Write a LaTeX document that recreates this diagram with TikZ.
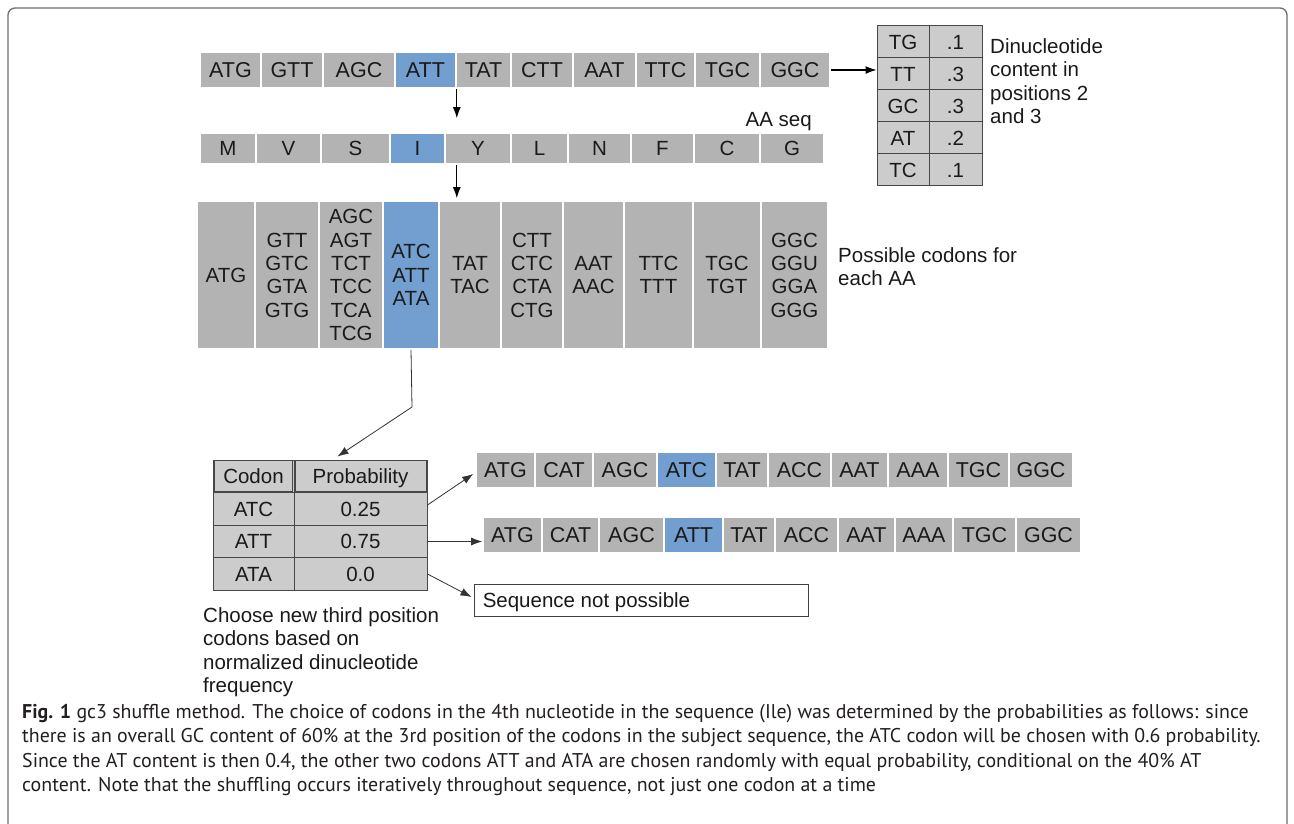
\documentclass[tikz,border=0pt]{standalone}
\usepackage{fontspec}
\setmainfont{Liberation Sans}
\newfontfamily\capfont{PT Sans}
\usetikzlibrary{arrows.meta,calc}
\definecolor{cellgray}{HTML}{B3B3B3}
\definecolor{cellblue}{HTML}{729FCF}
\definecolor{tabgray}{HTML}{CCCCCC}
\definecolor{txt}{HTML}{1A1A1A}
\definecolor{framegray}{HTML}{6E6E6E}
\definecolor{capcol}{HTML}{231F20}
\tikzset{
  cell/.style={fill=cellgray, draw=white, line width=1.6pt, inner sep=0pt, text=txt},
  hcell/.style={cell, fill=cellblue},
  onel/.style={text height=14.8pt, text depth=0pt},
  tcell/.style={fill=tabgray, draw=black!72, line width=1pt, inner sep=0pt, text=txt, onel},
  inbox/.style={draw=black!72, line width=0.8pt},
  arr/.style={-{Latex[length=11pt,width=8pt]}, line width=1.1pt, draw=black},
  garr/.style={-{Latex[length=11pt,width=8pt]}, line width=0.8pt, draw=black!80},
  lbl/.style={inner sep=0pt, text=txt, align=left},
  capline/.style={inner sep=0pt, text=capcol, anchor=base west, font=\capfont\fontsize{19.9}{24}\selectfont},
}
\begin{document}
\begin{tikzpicture}[x=1pt, y=-1pt, font=\fontsize{20.5}{23.3}\selectfont]
\useasboundingbox (0,0) rectangle (1294,824);
\fill[white] (0,0) rectangle (1294,824);
% frame
\draw[framegray, line width=1.3pt, rounded corners=7pt] (8,824) -- (8,8) -- (1287,8) -- (1287,824);

% top nucleotide row
\foreach \i/\a/\b/\t/\s in {1/200/261/ATG/cell, 2/261/323/GTT/cell, 3/323/395/AGC/cell, 4/395/456/ATT/hcell, 5/456/511/TAT/cell, 6/511/573/CTT/cell, 7/573/636/AAT/cell, 8/636/695/TTC/cell, 9/695/760/TGC/cell, 10/760/830/GGC/cell}
  \node[\s, font=\fontsize{21.5}{24}\selectfont, onel, minimum width={(\b-\a)*1pt}, minimum height=36pt] (t\i) at ({(\a+\b)/2},70) {\t};

% amino acid row
\foreach \i/\a/\b/\t/\s in {1/200/256/M/cell, 2/256/321/V/cell, 3/321/390/S/cell, 4/390/445/I/hcell, 5/445/511/Y/cell, 6/511/568/L/cell, 7/568/631/N/cell, 8/631/694/F/cell, 9/694/760/C/cell, 10/760/824/G/cell}
  \node[\s, onel, minimum width={(\b-\a)*1pt}, minimum height=31pt] (a\i) at ({(\a+\b)/2},148.5) {\t};
\node[lbl, anchor=east] (aaseq) at (812,122) {AA seq};

% possible codons block
\foreach \i/\a/\b/\t/\s in {1/197/255/{ATG}/cell, 2/255/319/{GTT\\GTC\\GTA\\GTG}/cell, 3/319/383/{AGC\\AGT\\TCT\\TCC\\TCA\\TCG}/cell, 4/383/439/{ATC\\ATT\\ATA}/hcell, 5/439/501/{TAT\\TAC}/cell, 6/501/563/{CTT\\CTC\\CTA\\CTG}/cell, 7/563/624/{AAT\\AAC}/cell, 8/624/693/{TTC\\TTT}/cell, 9/693/761/{TGC\\TGT}/cell, 10/761/828/{GGC\\GGU\\GGA\\GGG}/cell}
  \node[\s, align=center, minimum width={(\b-\a)*1pt}, minimum height=148pt] (c\i) at ({(\a+\b)/2},275) {\t};
\node[lbl, anchor=north west] (poss) at (838,247.5) {Possible codons for\\each AA};

% dinucleotide table
\foreach \i/\d/\v in {1/TG/.1, 2/TT/.3, 3/GC/.3, 4/AT/.2, 5/TC/.1} {
  \node[tcell, minimum width=52pt, minimum height=32pt] (d\i) at (903,{26+32*\i-16}) {\d};
  \node[tcell, minimum width=53pt, minimum height=32pt] (v\i) at (955.5,{26+32*\i-16}) {\v};
}
\node[lbl, anchor=north west] (dinlbl) at (990,38.5) {Dinucleotide\\content in\\positions 2\\and 3};

% probability table
\node[tcell, minimum width=81pt, minimum height=33pt] (ph1) at (253.5,476.5) {Codon};
\node[tcell, minimum width=133pt, minimum height=33pt] (ph2) at (360.5,476.5) {Probability};
\draw[inbox] ([shift={(2.2pt,-1pt)}]ph1.north west) rectangle ([shift={(-2.2pt,2.2pt)}]ph1.south east);
\draw[inbox] ([shift={(2.2pt,-1pt)}]ph2.north west) rectangle ([shift={(-1pt,2.2pt)}]ph2.south east);
\foreach \i/\c/\p/\y in {1/ATC/0.25/509, 2/ATT/0.75/541.5, 3/ATA/0.0/574} {
  \node[tcell, minimum width=81pt, minimum height=32.5pt] (pa\i) at (253.5,\y) {\c};
  \node[tcell, minimum width=133pt, minimum height=32.5pt] (pb\i) at (360.5,\y) {\p};
}
\node[lbl, anchor=north west] (choose) at (203,607.5) {Choose new third position\\codons based on\\normalized dinucleotide\\frequency};

% result rows
\foreach \i/\a/\b/\t/\s in {1/476/535/ATG/cell, 2/535/593/CAT/cell, 3/593/657/AGC/cell, 4/657/716/ATC/hcell, 5/716/768/TAT/cell, 6/768/831/ACC/cell, 7/831/888/AAT/cell, 8/888/948/AAA/cell, 9/948/1009/TGC/cell, 10/1009/1073/GGC/cell}
  \node[\s, font=\fontsize{21.5}{24}\selectfont, onel, minimum width={(\b-\a)*1pt}, minimum height=36pt] (r\i) at ({(\a+\b)/2},470) {\t};
\foreach \i/\a/\b/\t/\s in {1/483/542/ATG/cell, 2/542/599/CAT/cell, 3/599/664/AGC/cell, 4/664/723/ATT/hcell, 5/723/775/TAT/cell, 6/775/838/ACC/cell, 7/838/895/AAT/cell, 8/895/953/AAA/cell, 9/953/1016/TGC/cell, 10/1016/1081/GGC/cell}
  \node[\s, font=\fontsize{21.5}{24}\selectfont, onel, minimum width={(\b-\a)*1pt}, minimum height=36pt] (s\i) at ({(\a+\b)/2},535) {\t};
\node[draw=black!75, line width=0.9pt, minimum width=334pt, minimum height=32pt, inner sep=0pt] (snp) at (641,600) {};
\node[lbl, onel, anchor=west] (snptext) at ([xshift=9pt]snp.west) {Sequence not possible};

% connectors
\draw[arr] (t4.south east) -- ($(t4.south east |- a5.north)+(0,-14)$);
\draw[arr] (t4.south east |- a5.south) -- ($(t4.south east |- c5.north)+(0,-2)$);
\draw[arr] (t10.east) -- (t10.east -| d2.west);
\coordinate (bend) at (412,407);
\draw[garr] (c4.south) -- (bend) -- ([xshift=44pt,yshift=3pt]ph2.north west);
\draw[garr] ([yshift=4pt]pb1.east) -- ([xshift=-2pt,yshift=-4pt]r1.west);
\draw[garr] (pb2.east) -- (pb2.east -| s1.west);
\draw[garr] (pb3.east) -- ([xshift=-2pt,yshift=3pt]snp.west);

% caption
\node[capline] (cap1) at (22,718) {\textbf{Fig. 1} gc3 shuffle method. The choice of codons in the 4th nucleotide in the sequence (Ile) was determined by the probabilities as follows: since};
\node[capline] (cap2) at (22,742.5) {there is an overall GC content of 60\% at the 3rd position of the codons in the subject sequence, the ATC codon will be chosen with 0.6 probability.};
\node[capline] (cap3) at (22,767) {Since the AT content is then 0.4, the other two codons ATT and ATA are chosen randomly with equal probability, conditional on the 40\% AT};
\node[capline] (cap4) at (22,791.5) {content. Note that the shuffling occurs iteratively throughout sequence, not just one codon at a time};
\end{tikzpicture}
\end{document}
